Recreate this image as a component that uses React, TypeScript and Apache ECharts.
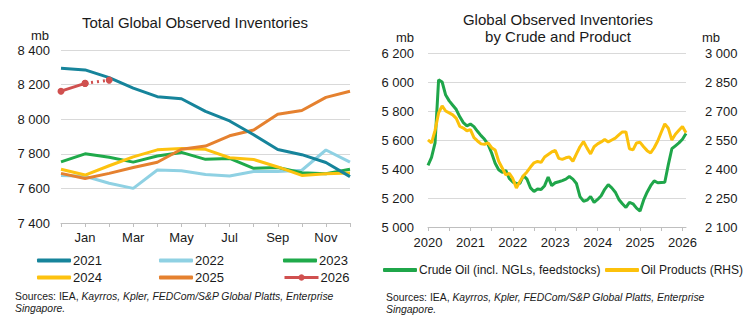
import React, { useEffect, useRef } from "react";
import * as echarts from "echarts";

// ---------- Left chart data ----------
const monthCats = ["Dec ", "Jan", "Feb", "Mar", "Apr", "May", "Jun", "Jul", "Aug", "Sep", "Oct", "Nov", "Dec"];
const y2021 = [8295, 8285, 8240, 8180, 8130, 8118, 8045, 7990, 7910, 7825, 7795, 7750, 7668];
const y2022 = [7675, 7670, 7630, 7600, 7706, 7702, 7680, 7672, 7698, 7698, 7705, 7822, 7752];
const y2023 = [7753, 7800, 7780, 7752, 7787, 7808, 7768, 7773, 7716, 7721, 7690, 7685, 7711];
const y2024 = [7711, 7677, 7731, 7782, 7823, 7830, 7826, 7777, 7767, 7724, 7675, 7685, 7689];
const y2025 = [7687, 7657, 7687, 7721, 7751, 7826, 7845, 7904, 7938, 8028, 8050, 8126, 8162];
const y2026 = [8162, 8207];
const y2026f = [null, 8207, 8226];

// ---------- Right chart data ----------
const startYear = 2020;
const nMonths = 74;
const monthlyCats: string[] = [];
for (let i = 0; i < nMonths; i++) {
  const y = startYear + Math.floor(i / 12);
  const m = (i % 12) + 1;
  monthlyCats.push(`${y}-${m < 10 ? "0" + m : m}`);
}
const crude = [
  5425, 5480, 5580, 6015, 6000, 5910, 5870, 5840, 5810, 5760, 5720, 5698,
  5710, 5692, 5660, 5630, 5605, 5570, 5510, 5440, 5395, 5377, 5390, 5335,
  5310, 5300, 5300, 5355, 5330, 5270, 5245, 5262, 5258, 5285, 5345, 5285,
  5305, 5312, 5320, 5330, 5348, 5330, 5300, 5210, 5178, 5185, 5210, 5170,
  5190, 5215, 5260, 5292, 5270, 5240, 5190, 5160, 5135, 5170, 5160, 5130,
  5110, 5185, 5240, 5285, 5318, 5305, 5307, 5309, 5430, 5540, 5560, 5580,
  5605, 5645,
];
const products = [
  2551, 2535, 2600, 2690, 2726, 2700, 2690, 2680, 2662, 2620, 2612, 2598,
  2604, 2562, 2545, 2530, 2528, 2535, 2510, 2498, 2440, 2405, 2370, 2378,
  2350, 2302, 2335, 2365, 2385, 2410, 2432, 2439, 2434, 2462, 2475, 2488,
  2496, 2455, 2450, 2458, 2462, 2440, 2478, 2515, 2542, 2508, 2478, 2515,
  2530, 2540, 2553, 2540, 2550, 2560, 2576, 2592, 2592, 2505, 2499, 2535,
  2538, 2515, 2495, 2483, 2510, 2545, 2590, 2633, 2611, 2550, 2580, 2600,
  2620, 2588,
];

const FONT = "'Liberation Sans', Arial, sans-serif";
const TXT = "#1a1a1a";
const GRID = "#d9d9d9";

const fmt = (v: number) => String(v).replace(/\B(?=(\d{3})+(?!\d))/g, " ");

const colors = {
  c2021: "#16849b",
  c2022: "#8fd1e3",
  c2023: "#1faa4a",
  c2024: "#fdc20f",
  c2025: "#e5812f",
  c2026: "#d0504f",
  crude: "#1fa64a",
  prod: "#fcc10b",
};

export default function App() {
  const ref = useRef<HTMLDivElement>(null);
  useEffect(() => {
    if (!ref.current) return;
    const chart = echarts.init(ref.current, undefined, { renderer: "svg" });

    const lineSeries = (name: string, data: any[], color: string, extra: any = {}) => ({
      type: "line",
      name,
      data,
      xAxisIndex: 0,
      yAxisIndex: 0,
      symbol: "none",
      lineStyle: { color, width: 3 },
      itemStyle: { color },
      ...extra,
    });

    const legendItem = (name: string, left: number, top: number, plain: boolean, fontSize = 13) => ({
      show: true,
      data: plain ? [{ name, icon: "roundRect" }] : [name],
      left,
      top,
      padding: 0,
      itemWidth: 34,
      itemHeight: plain ? 4 : 8,
      itemGap: 2,
      lineStyle: { type: "solid", width: 3 },
      textStyle: { fontFamily: FONT, fontSize, color: TXT, padding: [0, 0, 0, -3] },
      selectedMode: false,
    });

    const sourcesText = (x: number, y: number) => ({
      type: "text",
      x,
      y,
      style: {
        text: "{n|Sources: IEA, }{i|Kayrros, Kpler, FEDCom/S&P Global Platts, Enterprise}\n{i|Singapore.}",
        rich: {
          n: { fontFamily: FONT, fontSize: 10.4, fill: TXT, lineHeight: 12 },
          i: { fontFamily: FONT, fontSize: 10.4, fontStyle: "italic", fill: TXT, lineHeight: 12 },
        },
        fill: TXT,
      },
    });

    const option: any = {
      animation: false,
      backgroundColor: "#ffffff",
      grid: [
        { left: 61, right: 406, top: 50, bottom: 107 },
        { left: 428, right: 70, top: 53, bottom: 103 },
      ],
      xAxis: [
        {
          gridIndex: 0,
          type: "category",
          data: monthCats,
          boundaryGap: false,
          axisLine: { lineStyle: { color: "#bfbfbf" } },
          axisTick: { show: true, interval: 0, length: 4, lineStyle: { color: "#bfbfbf" } },
          axisLabel: {
            interval: (i: number) => i % 2 === 1,
            fontFamily: FONT,
            fontSize: 13,
            color: TXT,
            margin: 8,
          },
        },
        {
          gridIndex: 1,
          type: "category",
          data: monthlyCats,
          boundaryGap: false,
          axisLine: { lineStyle: { color: "#bfbfbf" } },
          axisTick: { show: true, interval: (i: number) => i % 6 === 0, length: 4, lineStyle: { color: "#bfbfbf" } },
          axisLabel: {
            interval: (i: number) => i % 12 === 0,
            formatter: (v: string) => v.slice(0, 4),
            fontFamily: FONT,
            fontSize: 13,
            color: TXT,
            margin: 9,
          },
        },
      ],
      yAxis: [
        {
          gridIndex: 0,
          type: "value",
          min: 7400,
          max: 8400,
          interval: 200,
          axisLine: { show: false },
          axisTick: { show: false },
          splitLine: { lineStyle: { color: GRID, width: 1 } },
          axisLabel: { formatter: fmt, fontFamily: FONT, fontSize: 13, color: TXT, margin: 11 },
        },
        {
          gridIndex: 1,
          type: "value",
          min: 5000,
          max: 6200,
          interval: 200,
          axisLine: { show: false },
          axisTick: { show: false },
          splitLine: { lineStyle: { color: GRID, width: 1 } },
          axisLabel: { formatter: fmt, fontFamily: FONT, fontSize: 13, color: TXT, margin: 14 },
        },
        {
          gridIndex: 1,
          type: "value",
          position: "right",
          min: 2100,
          max: 3000,
          interval: 150,
          axisLine: { show: false },
          axisTick: { show: false },
          splitLine: { show: false },
          axisLabel: { formatter: fmt, fontFamily: FONT, fontSize: 13, color: TXT, margin: 19 },
        },
      ],
      legend: [
        legendItem("2021", 37, 254, true),
        legendItem("2022", 159, 254, true),
        legendItem("2023", 283, 254, true),
        legendItem("2024", 37, 271, true),
        legendItem("2025", 159, 271, true),
        legendItem("2026", 283, 271, false),
        legendItem("Crude Oil (incl. NGLs, feedstocks)", 383, 264, true, 12),
        legendItem("Oil Products (RHS)", 605, 264, true, 12),
      ],
      series: [
        lineSeries("2022", y2022, colors.c2022),
        lineSeries("2023", y2023, colors.c2023),
        lineSeries("2024", y2024, colors.c2024),
        lineSeries("2025", y2025, colors.c2025),
        lineSeries("2021", y2021, colors.c2021),
        lineSeries("2026 forecast", y2026f, colors.c2026, {
          symbol: "circle",
          symbolSize: 7,
          showSymbol: true,
          lineStyle: { color: colors.c2026, width: 3, type: [2, 4] },
        }),
        lineSeries("2026", y2026, colors.c2026, { symbol: "circle", symbolSize: 7, showSymbol: true }),
        {
          type: "line",
          name: "Crude Oil (incl. NGLs, feedstocks)",
          data: crude,
          xAxisIndex: 1,
          yAxisIndex: 1,
          symbol: "none",
          lineStyle: { color: colors.crude, width: 3 },
          itemStyle: { color: colors.crude },
        },
        {
          type: "line",
          name: "Oil Products (RHS)",
          data: products,
          xAxisIndex: 1,
          yAxisIndex: 2,
          symbol: "none",
          lineStyle: { color: colors.prod, width: 3 },
          itemStyle: { color: colors.prod },
        },
      ],
      graphic: [
        {
          type: "text",
          x: 195,
          y: 22,
          style: { text: "Total Global Observed Inventories", font: `15px ${FONT}`, fill: TXT, align: "center", verticalAlign: "middle" },
        },
        {
          type: "text",
          x: 558,
          y: 19,
          style: { text: "Global Observed Inventories", font: `15px ${FONT}`, fill: TXT, align: "center", verticalAlign: "middle" },
        },
        {
          type: "text",
          x: 558,
          y: 36,
          style: { text: "by Crude and Product", font: `15px ${FONT}`, fill: TXT, align: "center", verticalAlign: "middle" },
        },
        { type: "text", x: 40, y: 35, style: { text: "mb", font: `13px ${FONT}`, fill: TXT, align: "center", verticalAlign: "middle" } },
        { type: "text", x: 405, y: 37, style: { text: "mb", font: `13px ${FONT}`, fill: TXT, align: "center", verticalAlign: "middle" } },
        { type: "text", x: 711, y: 37, style: { text: "mb", font: `13px ${FONT}`, fill: TXT, align: "center", verticalAlign: "middle" } },
        sourcesText(15, 290),
        sourcesText(386, 291),
      ],
    };

    chart.setOption(option);
    return () => chart.dispose();
  }, []);

  return (
    <div
      ref={ref}
      style={{ position: "fixed", left: 0, top: 0, width: 756, height: 330, background: "#fff" }}
    />
  );
}
